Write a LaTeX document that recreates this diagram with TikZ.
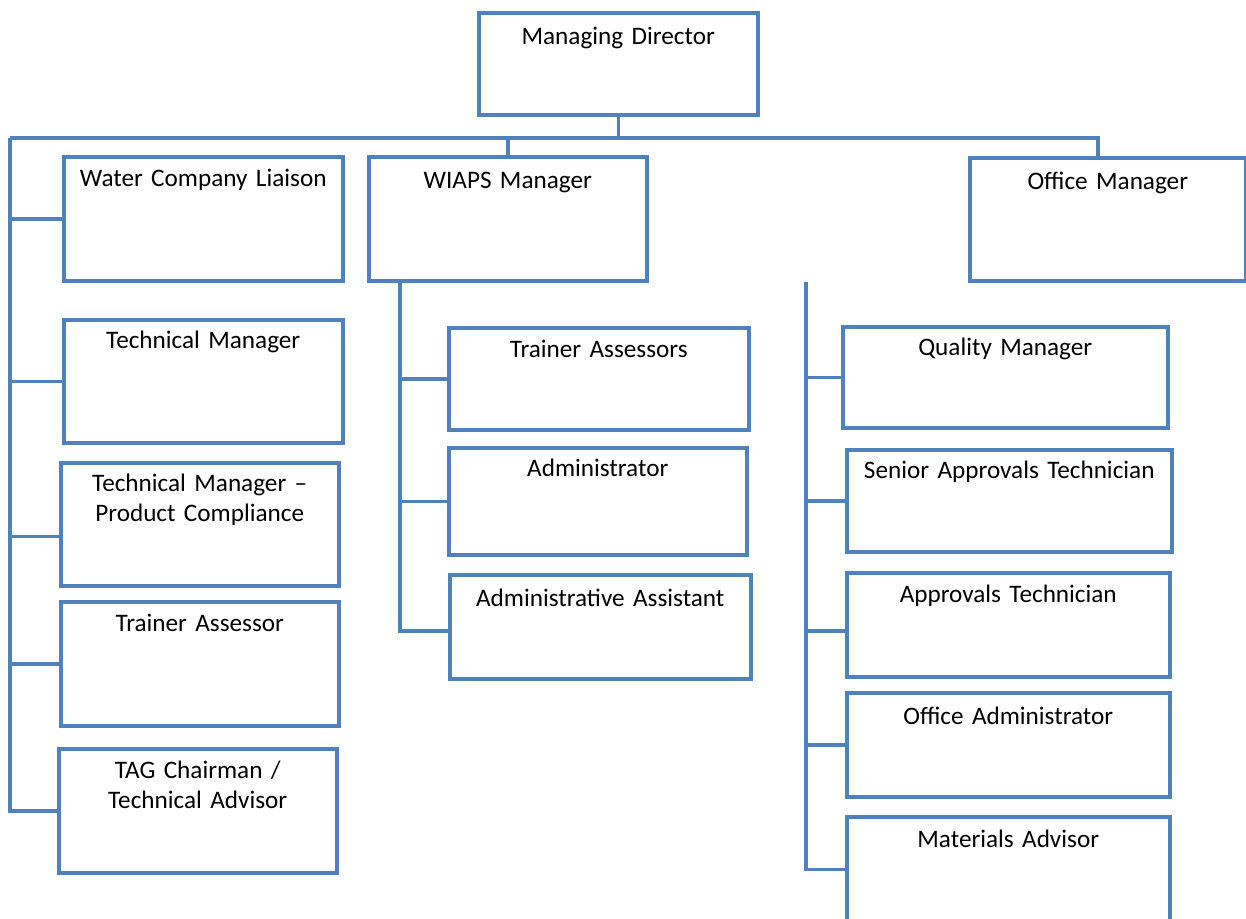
\documentclass[tikz,border=0pt]{standalone}
\usepackage{fontspec}
\setmainfont{Carlito}
\usepackage{xcolor}
\definecolor{orgblue}{RGB}{79,129,189}

\begin{document}
\begin{tikzpicture}[
  x=0.5pt, y=-0.5pt,
  % box: width, depth below first baseline, height above it
  post/.style n args={3}{rectangle, draw=orgblue, line width=1.75pt, inner sep=0pt, anchor=north west, align=center, font=\fontsize{12.6}{15}\selectfont, text width=#1, text depth=#2, text height=#3},
  link/.style={draw=orgblue, line width=1.75pt}
]
\useasboundingbox (0,0) rectangle (1246,918);

% top level
\node[post={139.5pt}{35pt}{16pt}] (md) at (477,11) {Managing Director};

\node[post={139.5pt}{47pt}{15pt}] (wcl) at (62,155) {Water Company Liaison};
\node[post={139pt}{46pt}{16pt}] (wiaps) at (367,155) {WIAPS Manager};
\node[post={138pt}{45.5pt}{16pt}] (om) at (968,156) {Office Manager};

% left column
\node[post={139.5pt}{47pt}{14.5pt}] (tm) at (62,318) {Technical Manager};
\node[post={139pt}{47pt}{14.5pt}] (tmpc) at (59,461) {Technical Manager --\\Product Compliance};
\node[post={139pt}{47pt}{15pt}] (ta) at (59,600) {Trainer Assessor};
\node[post={139pt}{47pt}{15pt}] (tag) at (57,747) {TAG Chairman /\\Technical Advisor};

% WIAPS team
\node[post={150pt}{36pt}{15pt}] (tas) at (447,326) {Trainer Assessors};
\node[post={149pt}{39pt}{14.5pt}] (adm) at (447,446) {Administrator};
\node[post={150.5pt}{36pt}{16pt}] (aa) at (448,573) {Administrative Assistant};

% office team
\node[post={162.5pt}{36pt}{14.5pt}] (qm) at (841,325) {Quality Manager};
\node[post={162.5pt}{36.5pt}{14.5pt}] (sat) at (845,448) {Senior Approvals Technician};
\node[post={161.5pt}{37pt}{15pt}] (at) at (845,571) {Approvals Technician};
\node[post={161.5pt}{36pt}{16pt}] (oa) at (845,691) {Office Administrator};
\node[post={161.5pt}{37pt}{15.5pt}] (ma) at (845,815) {Materials Advisor};

% bus lines
\coordinate (busL) at (10,138);
\coordinate (busR) at (1098,138);
\coordinate (midS) at (400,279);
\coordinate (rightS) at (806,282);

\draw[link] (md.south) -- (md.south |- busL);
\draw[link] (busL) -- (busR) -- (busR |- om.north);
\draw[link] (wiaps.north) -- (wiaps.north |- busL);

\draw[link] (busL) |- (tag.west);
\foreach \n in {wcl, tm, ta}
  \draw[link] (\n.west) -- (\n.west -| busL);
\draw[link] ([yshift=-6pt]tmpc.west) -- ([yshift=-6pt]tmpc.west -| busL);

\draw[link] (midS) |- ([yshift=-2pt]aa.west);
\foreach \n in {tas, adm}
  \draw[link] (\n.west) -- (\n.west -| midS);

\draw[link] (rightS) |- (ma.west);
\foreach \n in {qm, sat, oa}
  \draw[link] (\n.west) -- (\n.west -| rightS);
\draw[link] ([yshift=-3pt]at.west) -- ([yshift=-3pt]at.west -| rightS);

\end{tikzpicture}
\end{document}
